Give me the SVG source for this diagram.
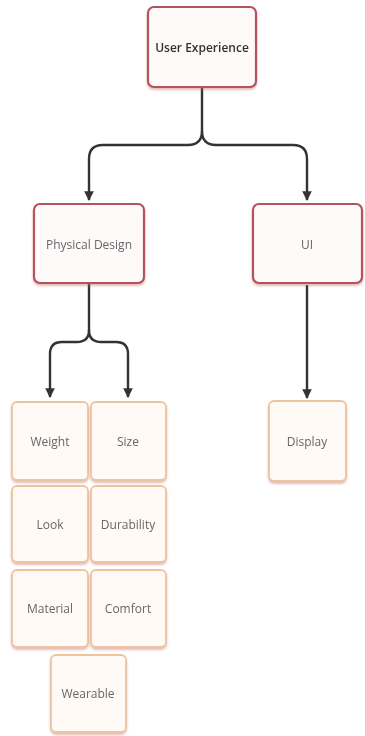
<svg xmlns="http://www.w3.org/2000/svg" width="365" height="736" viewBox="0 0 365 736">
<style>
.main rect{fill:#fffafa;stroke:#b5525c;stroke-width:2.2}
.leaf rect{fill:#fffaf6;stroke:#eec3a0;stroke-width:1.8}
text{font-family:"Open Sans","Liberation Sans",sans-serif;font-size:12px;fill:#666;text-anchor:middle;dominant-baseline:central}
.title{fill:#333;font-weight:600}
.conn path{fill:none;stroke:#333;stroke-width:2.4;stroke-linejoin:round}
</style>
<defs>
<marker id="arr" viewBox="0 0 10 10" refX="9" refY="5" markerWidth="4" markerHeight="4" orient="auto" markerUnits="strokeWidth">
<path d="M0,0 L10,5 L0,10 z" fill="#333"/>
</marker>
<filter id="sh" x="-10%" y="-10%" width="120%" height="125%">
<feDropShadow dx="0" dy="2" stdDeviation="1.2" flood-color="#c07060" flood-opacity="0.45"/>
</filter>
</defs>
<g class="conn">
<path d="M202,88 V131 Q202,145 188,145 H103 Q89,145 89,159 V200" marker-end="url(#arr)"/>
<path d="M202,131 Q202,145 216,145 H293 Q307,145 307,159 V200" marker-end="url(#arr)"/>
<path d="M89,283 V330 Q89,342 77,342 H62 Q50,342 50,354 V397" marker-end="url(#arr)"/>
<path d="M89,330 Q89,342 101,342 H116 Q128,342 128,354 V397" marker-end="url(#arr)"/>
<path d="M307,285 V398" marker-end="url(#arr)"/>
</g>
<g id="user-experience" class="main" filter="url(#sh)"><rect x="148" y="7" width="108" height="80" rx="6"/><text class="title" x="202" y="47">User Experience</text></g>
<g id="physical-design" class="main" filter="url(#sh)"><rect x="34" y="204" width="110" height="79" rx="6"/><text x="89" y="244">Physical Design</text></g>
<g id="ui" class="main" filter="url(#sh)"><rect x="253" y="204" width="109" height="79" rx="6"/><text x="307" y="244">UI</text></g>
<g id="weight" class="leaf" filter="url(#sh)"><rect x="12" y="402" width="76" height="78" rx="5"/><text x="50" y="441">Weight</text></g>
<g id="size" class="leaf" filter="url(#sh)"><rect x="91" y="402" width="75" height="78" rx="5"/><text x="128" y="441">Size</text></g>
<g id="look" class="leaf" filter="url(#sh)"><rect x="12" y="486" width="76" height="76" rx="5"/><text x="50" y="524">Look</text></g>
<g id="durability" class="leaf" filter="url(#sh)"><rect x="91" y="486" width="75" height="76" rx="5"/><text x="128" y="524">Durability</text></g>
<g id="material" class="leaf" filter="url(#sh)"><rect x="12" y="570" width="76" height="77" rx="5"/><text x="50" y="608">Material</text></g>
<g id="comfort" class="leaf" filter="url(#sh)"><rect x="91" y="570" width="75" height="77" rx="5"/><text x="128" y="608">Comfort</text></g>
<g id="wearable" class="leaf" filter="url(#sh)"><rect x="51" y="655" width="75" height="77" rx="5"/><text x="88" y="693">Wearable</text></g>
<g id="display" class="leaf" filter="url(#sh)"><rect x="269" y="401" width="77" height="80" rx="5"/><text x="307" y="441">Display</text></g>
</svg>
